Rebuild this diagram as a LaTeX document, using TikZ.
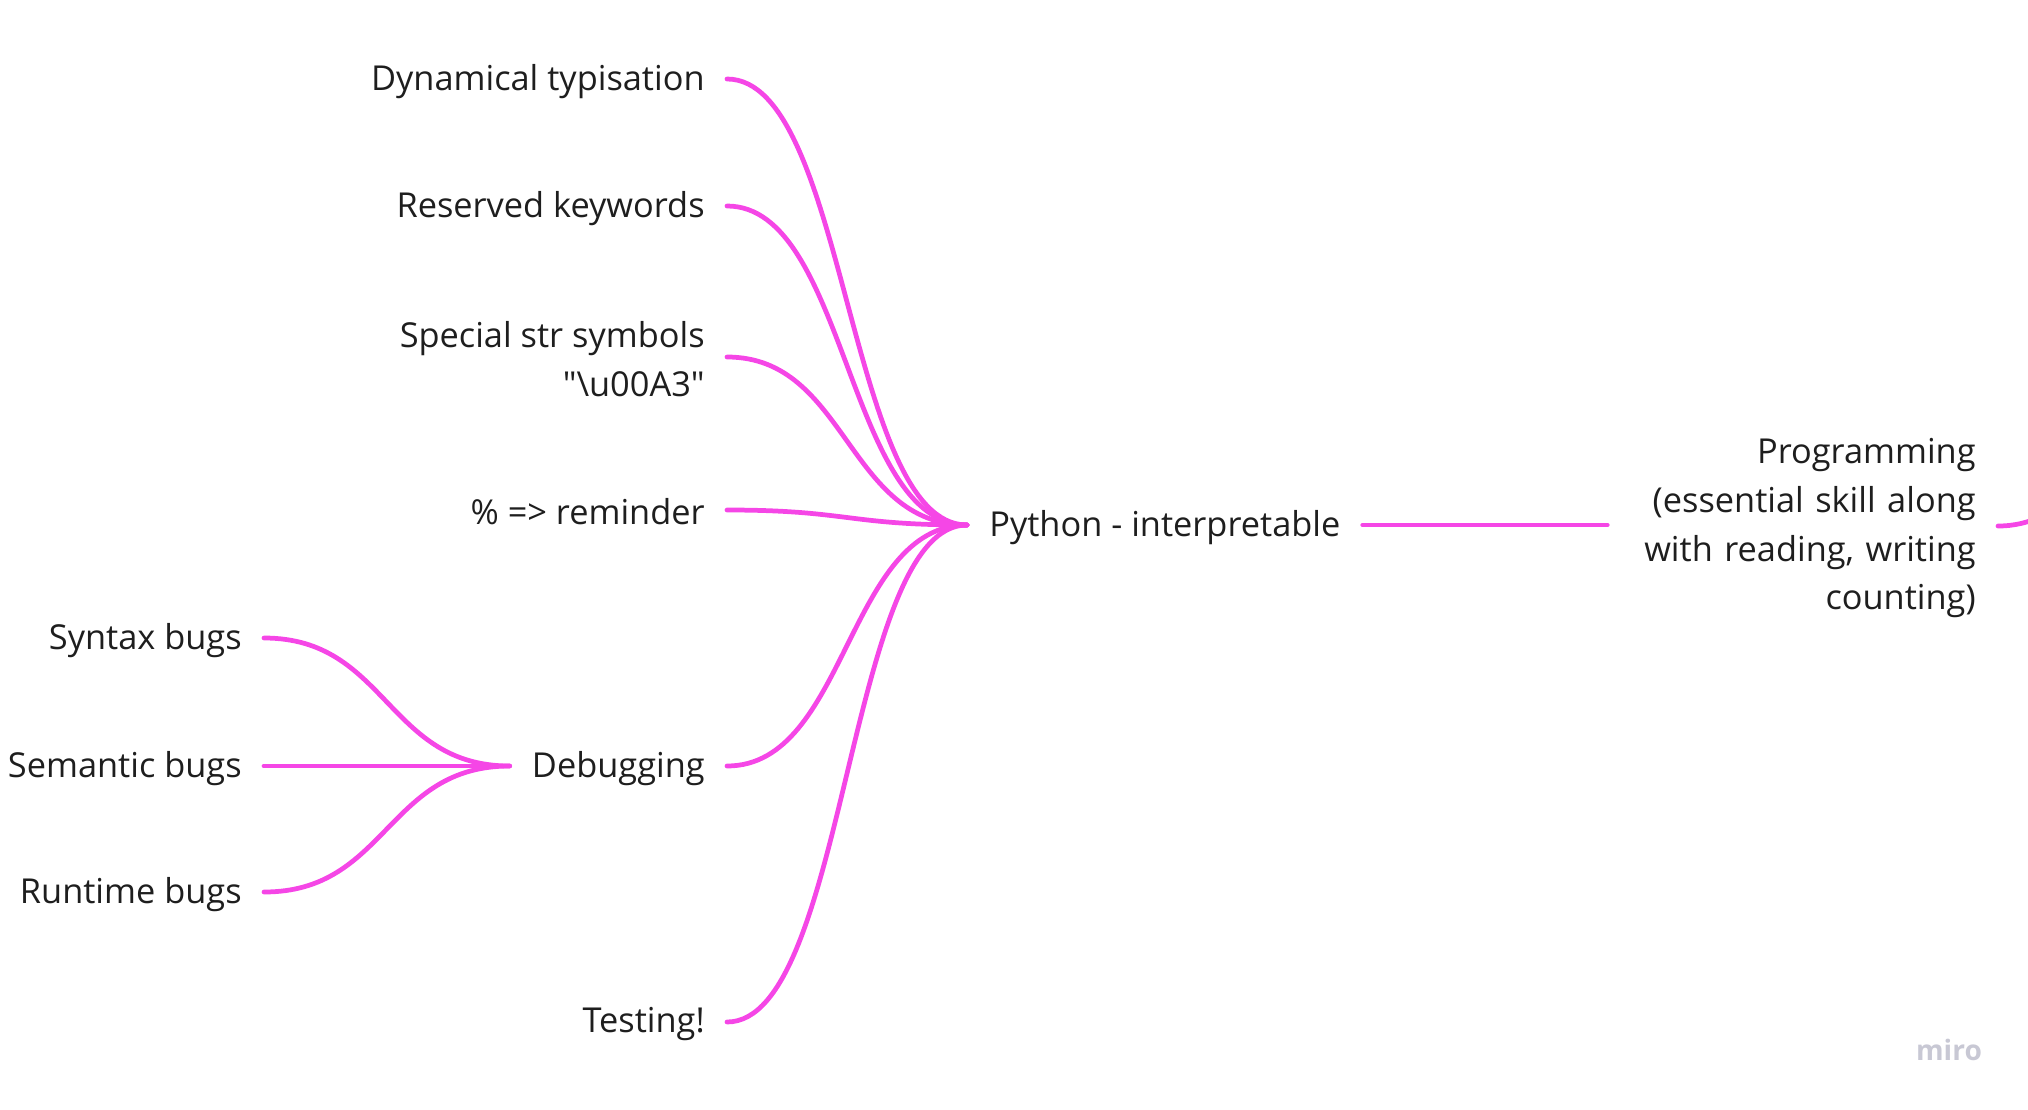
\documentclass[tikz,border=0pt]{standalone}
\usepackage{fontspec}
\setmainfont{Open Sans}
\usepackage{tikz}
\usetikzlibrary{calc}
\definecolor{branchpink}{RGB}{245,70,230}
\definecolor{labelgray}{RGB}{30,30,30}
\definecolor{logogray}{RGB}{200,200,212}
% curved branch, horizontal at both ends
\newcommand{\branch}[2]{%
  \draw[branch] let \p1=([yshift=1.2pt]#1), \p2=([yshift=1.2pt]#2) in
    (\p1) .. controls ({0.5*\x1+0.5*\x2},\y1) and ({0.5*\x1+0.5*\x2},\y2) .. (\p2);}

\begin{document}
\begin{tikzpicture}[
  x=0.02cm, y=-0.02cm,
  topic/.style ={inner xsep=22*0.02cm, inner ysep=2pt, text=labelgray, yshift=-1.2pt,
                 font=\fontsize{19.55}{27.8}\selectfont, align=right},
  branch/.style={draw=branchpink, line width=2.7pt, line cap=round},
]
\clip (0,0) rectangle (2028,1109);

\node[topic,anchor=east] (dyn)     at (727,79)   {Dynamical typisation};
\node[topic,anchor=east] (keyw)    at (727,206)  {Reserved keywords};
\node[topic,anchor=east] (special) at (727,357)  {Special str symbols\\\textquotedbl\textbackslash u00A3\textquotedbl};
\node[topic,anchor=east] (rem)     at (727,510)  {\% => reminder};
\node[topic,anchor=east] (debug)   at (727,766)  {Debugging};
\node[topic,anchor=east] (test)    at (727,1022) {Testing!};

\node[topic,anchor=east] (syntax)   at (264,638) {Syntax bugs};
\node[topic,anchor=east] (semantic) at (264,766) {Semantic bugs};
\node[topic,anchor=east] (runtime)  at (264,892) {Runtime bugs};

\node[topic,anchor=west] (python) at (967,525) {Python - interpretable};
\node[topic,anchor=east,text width=346*0.02cm] (prog) at (1998,526)
  {Programming\\(essential skill along\\with reading, writing\\counting)};
\coordinate (root) at (2260,300);

\branch{dyn.east}{python.west}
\branch{keyw.east}{python.west}
\branch{special.east}{python.west}
\branch{rem.east}{python.west}
\branch{debug.east}{python.west}
\branch{test.east}{python.west}
\branch{syntax.east}{debug.west}
\branch{semantic.east}{debug.west}
\branch{runtime.east}{debug.west}
\draw[branch] ([yshift=1.2pt]python.east) -- ([yshift=1.2pt]python.east -| prog.west);
\branch{prog.east}{root}

\node[text=logogray,font=\fontsize{16}{18}\selectfont\bfseries] (logo) at (1949,1050) {miro};
\end{tikzpicture}
\end{document}
